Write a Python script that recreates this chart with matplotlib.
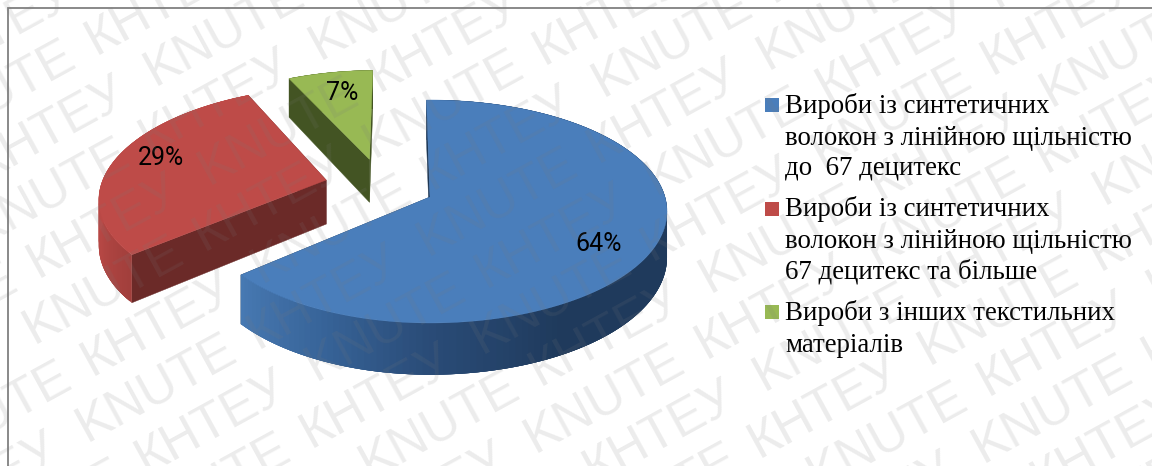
import numpy as np
import matplotlib
matplotlib.use("Agg")
import matplotlib.pyplot as plt
from matplotlib.patches import Polygon, Rectangle

# Chart data
shares = [64, 29, 7]
legend_lines = [
    ["Вироби із синтетичних", "волокон з лінійною щільністю", "до  67 децитекс"],
    ["Вироби із синтетичних", "волокон з лінійною щільністю", "67 децитекс та більше"],
    ["Вироби з інших текстильних", "матеріалів"],
]
watermark_words = ["KNUTE", "КНТЕУ"]

# Colours
top_colors = ["#4A7EBB", "#BE4B48", "#98B954"]
edge_colors = ["#1C3654", "#6B2A28", "#435423"]
legend_colors = ["#4A7EBB", "#BE4B48", "#98B954"]

# Perspective model of the tilted disc
CX, CY = 430.0, 197.0
RX, RY = 235.0, 109.6
LEFT_SQUEEZE = 0.97
PERSP = 0.13
DEPTH = 45.0
START_DEG = -1.0
explode = [(0.0, 0.0), (-0.465, 0.158), (-0.278, 0.36)]

# Rim wall shade as a function of the angle (clockwise from the top)
rim_angles = {
    0: [90, 150, 180, 205, 232],
    1: [230, 250, 275, 340],
    2: [330, 360],
}
rim_rgb = {
    0: ["#1F3A5C", "#1F3A5C", "#2A4C78", "#38659A", "#4A7CB6"],
    1: ["#A23F3C", "#B54744", "#BC4A47", "#BC4A47"],
    2: ["#435423", "#435423"],
}


def project(X, Y, z=0.0):
    X = np.asarray(X, dtype=float)
    den = 1.0 + PERSP * Y
    return CX + RX * np.where(X < 0, X * LEFT_SQUEEZE, X) / den, CY + (-RY * Y + z * DEPTH) / den


def rim_shade(i, a):
    rgb = np.array([matplotlib.colors.to_rgb(c) for c in rim_rgb[i]])
    return tuple(np.interp(a, rim_angles[i], rgb[:, k]) for k in range(3))


fig = plt.figure(figsize=(11.52, 4.66), dpi=100, facecolor="white")
ax = fig.add_axes([0, 0, 1, 1])
ax.set_xlim(0, 1152)
ax.set_ylim(466, 0)
ax.axis("off")

edges = START_DEG + np.concatenate([[0], np.cumsum(shares)]) * 3.6

# Back-to-front: green, red, blue
for i in [2, 1, 0]:
    a0, a1 = edges[i], edges[i + 1]
    ox, oy = explode[i]
    th = np.linspace(a0, a1, 160)
    X = ox + np.sin(np.radians(th))
    Y = oy + np.cos(np.radians(th))

    # radial walls
    for a in (a0, a1):
        rx = ox + np.sin(np.radians(a))
        ry = oy + np.cos(np.radians(a))
        pts = [project(ox, oy, 0), project(rx, ry, 0), project(rx, ry, 1), project(ox, oy, 1)]
        ax.add_patch(Polygon(pts, closed=True, fc=edge_colors[i], ec=edge_colors[i], lw=0.3, zorder=2))

    # rim wall, strips overlap the next one so no seams show
    for k in range(len(th) - 1):
        e = min(k + 4, len(th) - 1)
        top = [project(X[j], Y[j], 0) for j in range(k, e + 1)]
        bot = [project(X[j], Y[j], 1) for j in range(e, k - 1, -1)]
        c = rim_shade(i, th[k])
        ax.add_patch(Polygon(top + bot, closed=True, fc=c, ec="none", zorder=2))

    # top face
    px, py = project(X, Y, 0)
    ax0, ay0 = project(ox, oy, 0)
    outline = np.column_stack([np.r_[ax0, px], np.r_[ay0, py]])
    ax.add_patch(Polygon(outline, closed=True, fc=top_colors[i], ec=top_colors[i], lw=0.3, zorder=3))

# Value labels
label_xy = [(599, 244), (161, 158), (342, 93)]
for v, (lx, ly) in zip(shares, label_xy):
    ax.text(lx, ly, f"{v}%", family="Roboto", fontsize=18, color="black",
            ha="center", va="center", zorder=5)

# Legend
swatch_y = [98, 202, 305]
baselines = [[113, 145, 175], [216, 248, 279], [320.5, 352]]
for lines, col, sy, bases in zip(legend_lines, legend_colors, swatch_y, baselines):
    ax.add_patch(Rectangle((765, sy), 14, 14, fc=col, ec="none", zorder=5))
    for line, b in zip(lines, bases):
        ax.text(785, b, line, family="Liberation Serif", fontsize=19.4, color="black",
                ha="left", va="baseline", zorder=5)

# Frame: only the top and left sides are inside the canvas
ax.plot([8, 8, 1152], [466, 7.5, 7.5], color="#808080", lw=1.3, zorder=6,
        solid_joinstyle="miter")

# Diagonal repeating watermark
ANG = 28.7
ux, uy = np.cos(np.radians(ANG)), -np.sin(np.radians(ANG))
nx, ny = -uy, ux
PERIOD = 194.0
LINE_GAP = 56.0
for line in range(-8, 24):
    perp = 304.0 + line * LINE_GAP
    first = 0 if line % 2 == 0 else 1
    base = -122.0 if line % 2 == 0 else -86.0
    for w in range(-8, 12):
        along = base + w * PERIOD
        word = watermark_words[(first + w) % 2]
        x = along * ux + perp * nx - 14 * ux
        y = along * uy + perp * ny - 14 * uy
        if -200 < x < 1300 and -100 < y < 560:
            ax.text(x, y, word, family="Liberation Sans", fontsize=37,
                    color="#7A7A7A", alpha=0.14, rotation=ANG, rotation_mode="anchor",
                    ha="left", va="center", zorder=7, clip_on=True)

fig.savefig("out.png", dpi=100)
